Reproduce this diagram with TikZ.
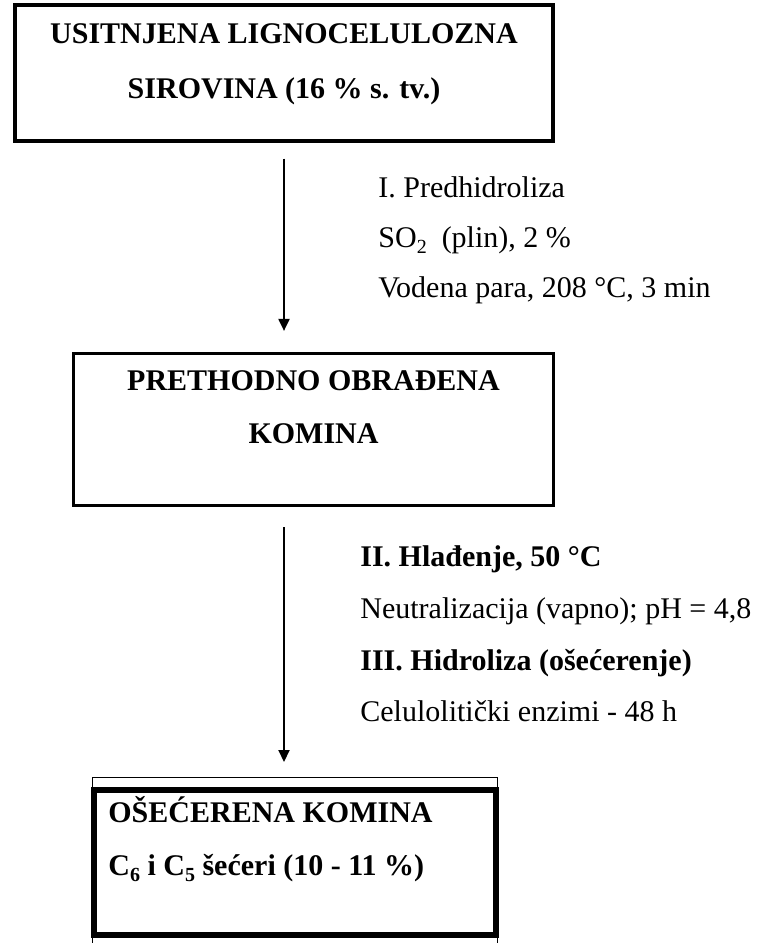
\documentclass[tikz,border=0pt]{standalone}
\usepackage{fontspec}
\setmainfont{Liberation Serif}
\usetikzlibrary{arrows.meta,positioning}
\newcommand{\dolje}[1]{\raisebox{-0.45ex}{\fontsize{10}{10}\selectfont #1}}
\tikzset{
    box/.style = {draw=black, line width=1.6pt, inner sep=0pt},
    fat box/.style = {draw=black, line width=3pt, inner sep=0pt},
    head/.style = {font=\fontsize{15}{18}\selectfont\bfseries, anchor=base, inner sep=0pt},
    note/.style = {font=\fontsize{15}{18}\selectfont, anchor=base west, inner sep=0pt},
    flow/.style = {->, line width=1pt}
}

\begin{document}
\begin{tikzpicture}[x=0.5pt,y=-0.5pt,>={Triangle[length=6pt,width=5.5pt]}]
    \useasboundingbox (0,0) rectangle (756,943);

    \node[box, minimum width=269pt, minimum height=68pt] (sirovina) at (284,73) {};
    \node[head] (sir1) at (284,43) {USITNJENA LIGNOCELULOZNA};
    \node[head] (sir2) at (284,98) {SIROVINA (16 \% s. tv.)};

    \node[box, minimum width=240pt, minimum height=76pt] (komina) at (313.5,429.5) {};
    \node[head] (kom1) at (313.5,390) {PRETHODNO OBRAĐENA};
    \node[head] (kom2) at (313.5,443) {KOMINA};

    \coordinate (okvir) at (92,777);
    \draw[line width=0.5pt] (92,943) -- (okvir) -- (497.5,777) -- (497.5,943);
    \node[fat box, minimum width=201.25pt, minimum height=72.5pt] (secer) at (294.75,862.5) {};
    \node[head, anchor=base west] (sec1) at (108,822) {OŠEĆERENA KOMINA};
    \node[head, anchor=base west] (sec2) at (108,875) {C\dolje{6} i C\dolje{5} šećeri (10 - 11 \%)};

    \node[note] (pre1) at (378,197) {I. Predhidroliza};
    \node[note] (pre2) at (378,247) {SO\dolje{2}\ \ (plin), 2 \%};
    \node[note] (pre3) at (378,297) {Vodena para, 208 °C, 3 min};

    \node[note] (hid1) at (360,566) {\textbf{II. Hlađenje, 50 °C}};
    \node[note] (hid2) at (360,618) {Neutralizacija (vapno); pH = 4,8};
    \node[note] (hid3) at (360,670) {\textbf{III. Hidroliza (ošećerenje)}};
    \node[note] (hid4) at (360,721) {Celulolitički enzimi - 48 h};

    \draw[flow, shorten <=8pt, shorten >=10.5pt] (sirovina.south) -- (sirovina.south |- komina.north);
    \draw[flow, shorten <=10pt, shorten >=7.5pt] (sirovina.south |- komina.south) -- (sirovina.south |- okvir);

\end{tikzpicture}
\end{document}
